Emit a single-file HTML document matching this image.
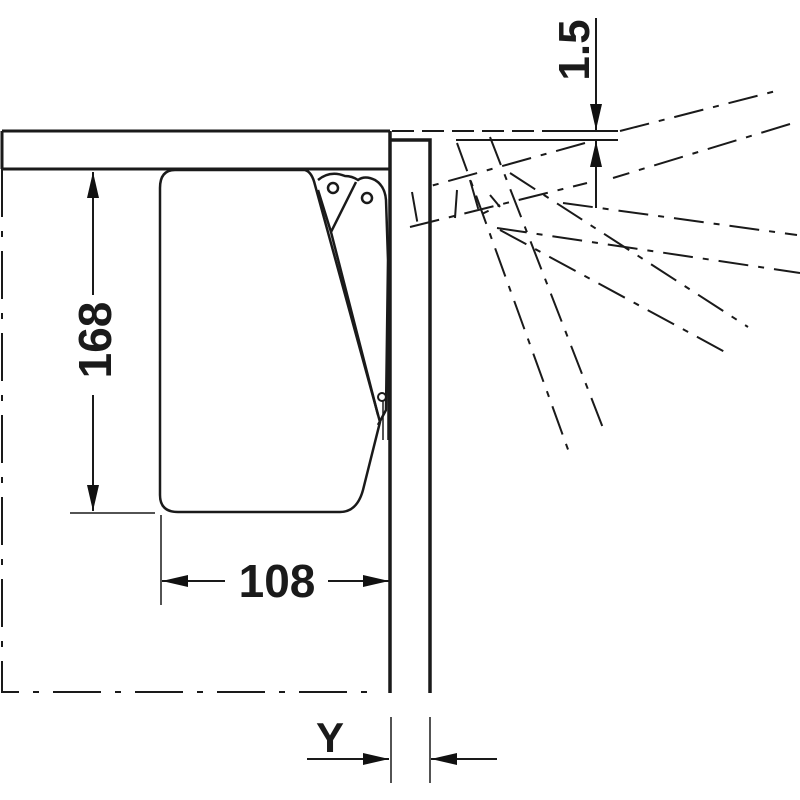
<!DOCTYPE html>
<html><head><style>body{margin:0;background:#fff}svg{display:block}</style></head><body>
<svg width="800" height="800" viewBox="0 0 800 800" xmlns="http://www.w3.org/2000/svg">
<defs>
<marker id="a" viewBox="0 0 26 12" refX="26" refY="6" markerWidth="26" markerHeight="12" markerUnits="userSpaceOnUse" orient="auto"><path d="M0,0 L26,6 L0,12z" fill="#111"/></marker>
</defs>
<g stroke="#1a1a1a" fill="none" stroke-linecap="butt">
<path d="M2,131 H390 M2,169 H390 M2,131 V169" stroke-width="3"/>
<path d="M390,131 V693" stroke-width="3.5"/>
<path d="M390,140 H430 V693" stroke-width="3.5"/>
<path d="M2,169 V692 H378" stroke-width="2" stroke-dasharray="48,14,6,14"/>
<path d="M175,170 H305 Q312,172 315,185 L380,422 L363,490 Q357,512 340,512 H178 Q160,512 160,495 V188 Q160,170 175,170 Z" stroke-width="2.5"/>
<path d="M318,180 Q330,170 345,176 Q352,176 358,180 Q365,175 375,180 Q385,186 386,200 L388,260 L386,410 L378,425" stroke-width="2.5"/>
<path d="M318,190 L331,232 L356,182 M331,232 L378,415" stroke-width="2.5"/>
<circle cx="333" cy="188" r="5" stroke-width="2.5"/>
<circle cx="367" cy="198" r="5" stroke-width="2.5"/>
<path d="M388,255 V440 M383,400 V440" stroke-width="1.5"/>
<circle cx="382" cy="397" r="4" stroke-width="2"/>
<path d="M93,295 V172" stroke-width="2" marker-end="url(#a)"/>
<path d="M93,395 V511" stroke-width="2" marker-end="url(#a)"/>
<path d="M70,513 H155 M161,515 V605" stroke-width="1.5"/>
<path d="M225,581 H162" stroke-width="2" marker-end="url(#a)"/>
<path d="M328,581 H389" stroke-width="2" marker-end="url(#a)"/>
<path d="M307,759 H389" stroke-width="2" marker-end="url(#a)"/>
<path d="M497,759 H431" stroke-width="2" marker-end="url(#a)"/>
<path d="M391,717 V783 M430,717 V783" stroke-width="1.5"/>
<path d="M596,18 V130" stroke-width="2" marker-end="url(#a)"/>
<path d="M596,208 V141" stroke-width="2" marker-end="url(#a)"/>
<path d="M548,131 H618 M456,140 H618" stroke-width="2"/>
<path d="M392,131 H548" stroke-width="2" stroke-dasharray="22,8"/>
<g stroke-width="2" stroke-dasharray="30,10,6,10">
<path d="M620,131 L780,90"/>
<path d="M790,124 L613,178"/>
<path d="M585,143 L427,187"/>
<path d="M410,227 L587,183"/>
<path d="M457,143 L570,455"/>
<path d="M490,137 L603,428"/>
<path d="M500,230 L725,352"/>
<path d="M510,173 L748,327"/>
<path d="M497,228 L800,273"/>
<path d="M563,203 L797,235"/>
<path d="M412,192 L418,226 M457,190 L455,218 M470,180 L480,215 L500,205 M490,195 L500,207"/>
</g>
</g>
<g font-family="Liberation Sans, sans-serif" font-weight="bold" fill="#1a1a1a">
<text x="0" y="0" font-size="46" text-anchor="middle" transform="translate(111,340) rotate(-90)">168</text>
<text x="277" y="597" font-size="46" text-anchor="middle">108</text>
<text x="330" y="752" font-size="42" text-anchor="middle">Y</text>
<text x="0" y="0" font-size="44" text-anchor="middle" transform="translate(589,50) rotate(-90)">1.5</text>
</g>
</svg>
</body></html>
